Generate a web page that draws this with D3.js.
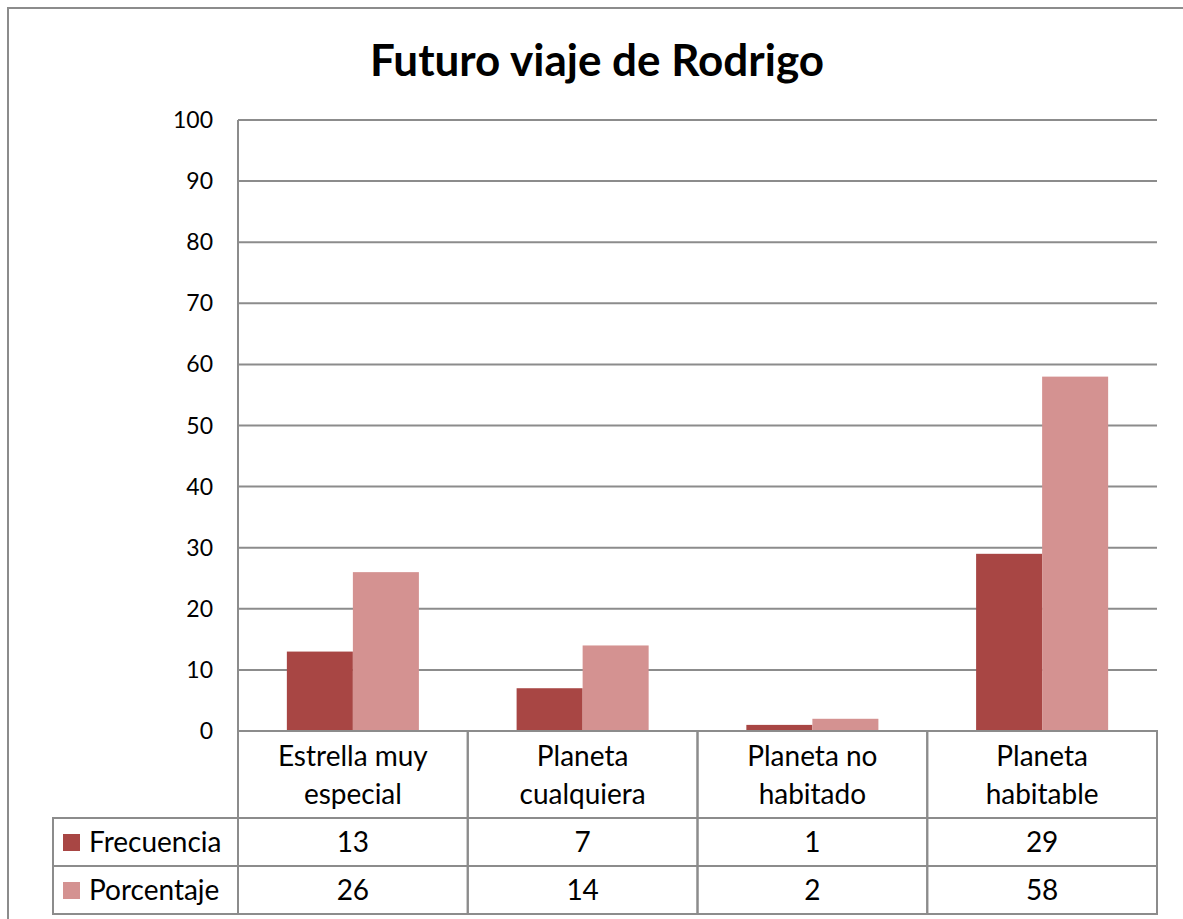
<!DOCTYPE html>
<meta charset="utf-8">
<html>
<head>
<title>Futuro viaje de Rodrigo</title>
<script src="https://cdn.jsdelivr.net/npm/d3@7"></script>
<style>
body { margin: 0; background: white; }
svg text { font-family: Lato, "Open Sans", sans-serif; fill: #000; }
.grid line { stroke: #8c8c8c; stroke-width: 2px; }
.cell { fill: none; stroke: #8c8c8c; stroke-width: 2px; }
</style>
</head>
<body>
<svg id="chart"></svg>
<script>
'use strict'

// data
const categories   = [["Estrella muy", "especial"], ["Planeta", "cualquiera"], ["Planeta no", "habitado"], ["Planeta", "habitable"]]
const seriesNames  = ["Frecuencia", "Porcentaje"]
const frecuencia   = [13, 7, 1, 29]
const porcentaje   = [26, 14, 2, 58]
const yTicks       = [0, 10, 20, 30, 40, 50, 60, 70, 80, 90, 100]
const colors       = ["#a84644", "#d49291"]

const width = 1183, height = 919
const plot = {left: 238, right: 1157, top: 120, bottom: 731}
const tableLeft = 53,
      labelRowBottom = 818,
      rowHeight = 48

const svg = d3.select("#chart").attr("width", width).attr("height", height)

// outer chart frame (right side runs off the picture)
svg.append("path")
  .attr("d", `M1185,8 H8 V921`)
  .attr("fill", "none")
  .attr("stroke", "#8c8c8c")
  .attr("stroke-width", 2)

svg.append("text")
  .attr("x", 597).attr("y", 76)
  .attr("text-anchor", "middle")
  .style("font-size", "44px")
  .style("font-weight", "bold")
  .text("Futuro viaje de Rodrigo")

const y = d3.scaleLinear().domain([0, 100]).range([plot.bottom, plot.top])
const x = d3.scaleBand().domain(d3.range(categories.length)).range([plot.left, plot.right])
const xs = d3.scaleBand().domain(d3.range(seriesNames.length)).range([0, x.bandwidth()]).paddingOuter(0.74).paddingInner(0)

// gridlines
svg.append("g").attr("class", "grid")
  .selectAll("line").data(yTicks).enter().append("line")
    .attr("x1", plot.left).attr("x2", plot.right)
    .attr("y1", d => y(d)).attr("y2", d => y(d))

// y axis line
svg.append("line")
  .attr("x1", plot.left).attr("x2", plot.left)
  .attr("y1", plot.top).attr("y2", plot.bottom)
  .attr("stroke", "#8c8c8c").attr("stroke-width", 2)

// tick labels
svg.append("g").selectAll("text").data(yTicks).enter().append("text")
  .attr("x", 213).attr("y", d => y(d))
  .attr("dy", "0.35em")
  .attr("text-anchor", "end")
  .style("font-size", "23px")
  .text(d => d)

// bars
const series = [frecuencia, porcentaje]
series.forEach((vals, s) => {
  svg.append("g").selectAll("rect").data(vals).enter().append("rect")
    .attr("x", (d, i) => x(i) + xs(s))
    .attr("width", xs.bandwidth())
    .attr("y", d => y(d))
    .attr("height", d => y(0) - y(d))
    .attr("fill", colors[s])
})

// data table
const tbl = svg.append("g")
const fs = "28px"
// category label cells
categories.forEach((c, i) => {
  tbl.append("rect").attr("class", "cell")
    .attr("x", x(i)).attr("y", plot.bottom)
    .attr("width", x.bandwidth()).attr("height", labelRowBottom - plot.bottom)
  c.forEach((line, k) => {
    tbl.append("text")
      .attr("x", x(i) + x.bandwidth() / 2)
      .attr("y", 756 + k * 38)
      .attr("dy", "0.35em")
      .attr("text-anchor", "middle")
      .style("font-size", fs)
      .text(line)
  })
})
// series rows
series.forEach((vals, s) => {
  const top = labelRowBottom + s * rowHeight
  tbl.append("rect").attr("class", "cell")
    .attr("x", tableLeft).attr("y", top)
    .attr("width", plot.left - tableLeft).attr("height", rowHeight)
  tbl.append("rect")
    .attr("x", 63).attr("y", top + rowHeight / 2 - 8)
    .attr("width", 17).attr("height", 17)
    .attr("fill", colors[s])
  tbl.append("text")
    .attr("x", 89).attr("y", top + rowHeight / 2)
    .attr("dy", "0.35em")
    .style("font-size", fs)
    .text(seriesNames[s])
  vals.forEach((v, i) => {
    tbl.append("rect").attr("class", "cell")
      .attr("x", x(i)).attr("y", top)
      .attr("width", x.bandwidth()).attr("height", rowHeight)
    tbl.append("text")
      .attr("x", x(i) + x.bandwidth() / 2).attr("y", top + rowHeight / 2)
      .attr("dy", "0.35em")
      .attr("text-anchor", "middle")
      .style("font-size", fs)
      .text(v)
  })
})
</script>
</body>
</html>
